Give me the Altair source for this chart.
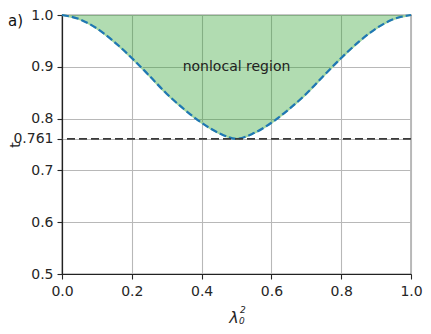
import altair as alt
import pandas as pd

# Curve (lambda_0^2 vs t)
lam = [0.0, 0.05, 0.1, 0.15, 0.2, 0.25, 0.3, 0.35, 0.4, 0.45, 0.5,
       0.55, 0.6, 0.65, 0.7, 0.75, 0.8, 0.85, 0.9, 0.95, 1.0]
t_vals = [1.0, 0.992, 0.974, 0.948, 0.917, 0.883, 0.848, 0.818, 0.792, 0.772, 0.761,
          0.772, 0.792, 0.818, 0.848, 0.883, 0.917, 0.948, 0.974, 0.992, 1.0]
t_top = 1.0
t_threshold = 0.761
x_ticks = [0.0, 0.2, 0.4, 0.6, 0.8, 1.0]
y_ticks = [0.5, 0.6, 0.7, 0.761, 0.8, 0.9, 1.0]
region_label = "nonlocal region"
panel_label = "a)"
x_title_main = "λ"
x_title_sup = "2"
x_title_sub = "0"

df = pd.DataFrame({"lam": lam, "t": t_vals, "top": [t_top] * len(lam)})
df_rule = pd.DataFrame({"t": [t_threshold]})
df_text = pd.DataFrame({"lam": [0.5], "t": [0.90], "label": [region_label]})

FONT = "DejaVu Sans"
xscale = alt.Scale(domain=[0, 1], nice=False, zero=False)
yscale = alt.Scale(domain=[0.5, 1.0], nice=False, zero=False)

xaxis = alt.Axis(values=x_ticks, format=".1f", title=None, labelPadding=5,
                 labelFlush=False)
yaxis = alt.Axis(values=y_ticks, title="t", titleFontWeight="normal", titleFontSize=14,
                 titleX=-47, titleY=129.5, titleAngle=-90, titleBaseline="middle",
                 titleAlign="center", labelFlush=False,
                 labelExpr="datum.value == 0.761 ? '0.761' : format(datum.value, '.1f')",
                 labelPadding=4)

base = alt.Chart(df)

area = base.mark_area(color="#2ca02c", opacity=0.37, interpolate="monotone").encode(
    x=alt.X("lam:Q", scale=xscale, axis=xaxis),
    y=alt.Y("t:Q", scale=yscale, axis=yaxis),
    y2="top:Q",
)

edge = base.mark_line(color="#9fd49f", strokeWidth=2, interpolate="monotone").encode(
    x="lam:Q", y="t:Q"
)

line = base.mark_line(color="#1f77b4", strokeWidth=2.2, strokeDash=[7, 3],
                      interpolate="monotone").encode(x="lam:Q", y="t:Q")

rule = alt.Chart(df_rule).mark_rule(color="#3a3a3a", strokeWidth=1.8,
                                    strokeDash=[8, 4]).encode(y="t:Q")

text = alt.Chart(df_text).mark_text(font=FONT, fontSize=14, color="#222222").encode(
    x="lam:Q", y="t:Q", text="label:N"
)

panel = alt.Chart(pd.DataFrame({"label": [panel_label]})).mark_text(
    font=FONT, fontSize=15, align="left", baseline="middle", color="#111111"
).encode(x=alt.value(-54), y=alt.value(6), text="label:N")

xt_main = alt.Chart(pd.DataFrame({"label": [x_title_main]})).mark_text(
    font=FONT, fontSize=16, fontStyle="italic", align="center", baseline="alphabetic",
    color="#262626"
).encode(x=alt.value(172), y=alt.value(308), text="label:N")

xt_sup = alt.Chart(pd.DataFrame({"label": [x_title_sup]})).mark_text(
    font=FONT, fontSize=9, fontStyle="italic", align="left", baseline="alphabetic",
    color="#262626"
).encode(x=alt.value(178), y=alt.value(298), text="label:N")

xt_sub = alt.Chart(pd.DataFrame({"label": [x_title_sub]})).mark_text(
    font=FONT, fontSize=9, fontStyle="italic", align="left", baseline="alphabetic",
    color="#262626"
).encode(x=alt.value(177), y=alt.value(309), text="label:N")

chart = alt.layer(area, edge, line, rule, text, panel, xt_main, xt_sup, xt_sub).properties(
    width=349, height=259,
    autosize=alt.AutoSizeParams(type="none"),
    padding={"left": 54, "top": 7, "right": 12, "bottom": 52},
).configure_view(
    stroke="#222222", strokeWidth=1.2
).configure_axis(
    labelFont=FONT, titleFont=FONT, labelFontSize=14, labelColor="#262626",
    titleColor="#262626", grid=True, gridColor="#b8b8b8", gridWidth=1.1,
    tickColor="#262626", tickSize=5, tickWidth=1.1, domainColor="#222222",
    domainWidth=1.2,
)

chart.save("out.html", embed_options={"renderer": "svg", "actions": False})
